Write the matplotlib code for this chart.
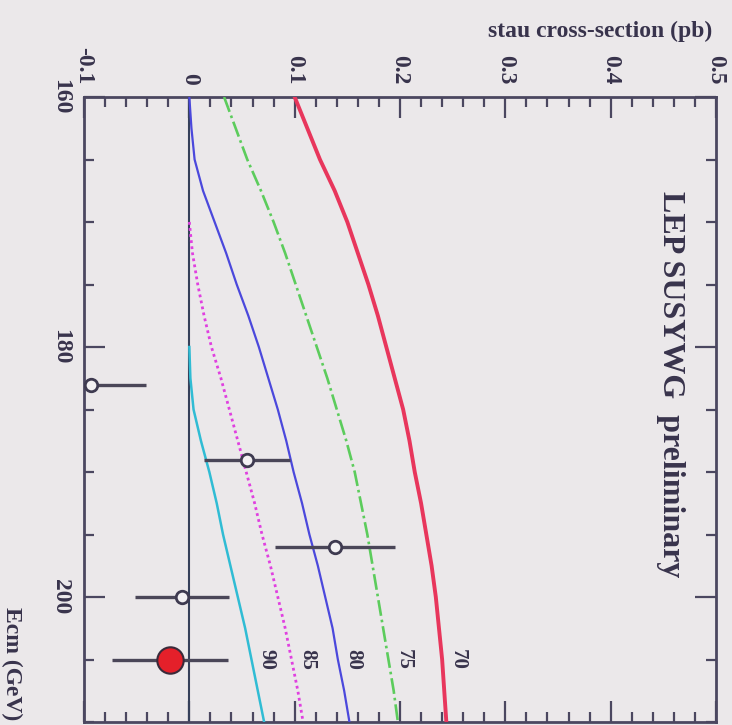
import matplotlib
matplotlib.use("Agg")
import matplotlib.pyplot as plt
from matplotlib.ticker import MultipleLocator, FuncFormatter

# centre-of-mass energies (GeV) where the curves were tabulated
ecm_70 = [160, 162.5, 165, 167.5, 170, 172.5, 175, 177.5, 180, 182.5, 185,
          187.5, 190, 192.5, 195, 197.5, 200, 202.5, 205, 207.5, 210]
ecm_75 = ecm_70
ecm_80 = ecm_70
ecm_85 = [170, 172.5, 175, 177.5, 180, 182.5, 185, 187.5, 190, 192.5, 195,
          197.5, 200, 202.5, 205, 207.5, 210]
ecm_90 = [180, 182.5, 185, 187.5, 190, 192.5, 195, 197.5, 200, 202.5, 205,
          207.5, 210]

# stau pair cross-sections (pb) for each stau mass
xs_70 = [0.100, 0.112, 0.124, 0.138, 0.150, 0.160, 0.170, 0.179, 0.187, 0.195,
         0.203, 0.209, 0.214, 0.220, 0.225, 0.230, 0.234, 0.237, 0.240, 0.242,
         0.244]
xs_75 = [0.033, 0.044, 0.055, 0.068, 0.080, 0.091, 0.101, 0.111, 0.121, 0.131,
         0.140, 0.149, 0.157, 0.163, 0.169, 0.174, 0.179, 0.184, 0.189, 0.194,
         0.198]
xs_80 = [0.000, 0.002, 0.005, 0.013, 0.024, 0.035, 0.045, 0.056, 0.066, 0.075,
         0.084, 0.092, 0.099, 0.107, 0.114, 0.122, 0.129, 0.136, 0.141, 0.147,
         0.152]
xs_85 = [0.000, 0.003, 0.008, 0.014, 0.021, 0.030, 0.038, 0.046, 0.054, 0.062,
         0.069, 0.077, 0.084, 0.091, 0.097, 0.103, 0.108]
xs_90 = [0.000, 0.001, 0.004, 0.011, 0.019, 0.026, 0.032, 0.039, 0.046, 0.053,
         0.059, 0.065, 0.071]

masses = [70, 75, 80, 85, 90]

# measured points
data_ecm = [183, 189, 196, 200, 205]
data_xs = [-0.093, 0.055, 0.138, -0.007, -0.018]
data_err = [0.052, 0.041, 0.057, 0.045, 0.055]

bg = "#ebe8ea"
ink = "#38334c"
frame = "#4b4760"

plt.rcParams["font.family"] = ["Liberation Serif", "DejaVu Serif"]
plt.rcParams["font.weight"] = "bold"

fig = plt.figure(figsize=(7.32, 7.25), dpi=100)
fig.patch.set_facecolor(bg)
ax = fig.add_axes([84 / 732, 3 / 725, 632 / 732, 625 / 725])
ax.set_facecolor(bg)

# zero line
ax.axvline(0, color="#36405a", lw=1.5, zorder=2)

curves = [
    (ecm_70, xs_70, dict(color="#e8365c", lw=2.8, ls="-")),
    (ecm_75, xs_75, dict(color="#5ccc5c", lw=1.9, ls=(0, (6, 1.5, 1, 1.5)))),
    (ecm_80, xs_80, dict(color="#4b48dc", lw=1.6, ls="-")),
    (ecm_85, xs_85, dict(color="#e040e0", lw=2.0, ls=(0, (1, 1.2)))),
    (ecm_90, xs_90, dict(color="#30bcd4", lw=1.8, ls="-")),
]
for (e, s, st), m in zip(curves, masses):
    ax.plot(s, e, zorder=3, **st)
    # mass label just right of each curve near 205 GeV
    i = e.index(205)
    ax.annotate(str(m), xy=(s[i], 205), xytext=(11, 0), textcoords="offset points",
                rotation=-90, ha="center", va="center", fontsize=15, color=ink)

# data with errors
for k in range(len(data_ecm)):
    last = k == len(data_ecm) - 1
    ax.errorbar(data_xs[k], data_ecm[k], xerr=data_err[k], fmt="o",
                ecolor="#4a4658", elinewidth=2.4, capsize=0,
                ms=19 if last else 9,
                mfc="#e4202a" if last else "#f3f1f3",
                mec="#3a2a3a" if last else "#3e3a50",
                mew=1.5 if last else 2.0, zorder=5)

ax.set_xlim(-0.1, 0.5)
ax.set_ylim(210, 160)

ax.xaxis.set_major_locator(MultipleLocator(0.1))
ax.xaxis.set_minor_locator(MultipleLocator(0.02))
ax.yaxis.set_major_locator(MultipleLocator(20))
ax.yaxis.set_minor_locator(MultipleLocator(5))
ax.xaxis.set_major_formatter(FuncFormatter(lambda v, p: "%g" % round(v, 2)))
ax.yaxis.set_major_formatter(FuncFormatter(lambda v, p: "%d" % v))

ax.tick_params(axis="x", which="both", direction="in", top=True, bottom=True,
               labeltop=True, labelbottom=False, labelrotation=-90,
               labelsize=17, labelcolor=ink, color=frame, pad=9)
ax.tick_params(axis="y", which="both", direction="in", left=True, right=True,
               labelleft=True, labelrotation=-90, labelsize=17,
               labelcolor=ink, color=frame, pad=9)
ax.tick_params(which="major", length=15, width=1.6)
ax.tick_params(which="minor", length=7, width=1.6)
for lab in ax.get_yticklabels():
    lab.set_va("center")

for sp in ax.spines.values():
    sp.set_color(frame)
    sp.set_linewidth(2)

fig.text(712 / 732, 1 - 31 / 725, "stau cross-section (pb)", ha="right",
         va="center", fontsize=17, color=ink)
fig.text(12 / 732, 1 - 607 / 725, "Ecm (GeV)", rotation=-90, ha="center",
         va="top", fontsize=17, color=ink)
fig.text(670 / 732, 1 - 384 / 725, "LEP SUSYWG  preliminary", rotation=-90,
         ha="center", va="center", fontsize=23, color=ink)

fig.savefig("out.png", dpi=100, facecolor=bg)
